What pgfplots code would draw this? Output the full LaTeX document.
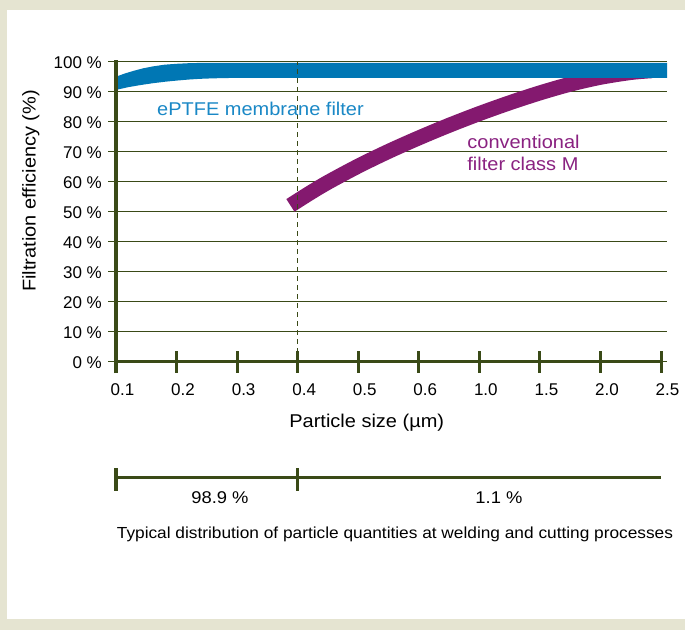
\documentclass[border=0pt]{standalone}
\usepackage{fontspec}
\setmainfont{Liberation Sans}
\newfontfamily\lab{Liberation Sans}[FakeStretch=1.08]
\usepackage{pgfplots}
\pgfplotsset{compat=1.18}
\definecolor{bgbeige}{HTML}{E5E4D1}
\definecolor{axcol}{HTML}{3A4A17}
\definecolor{eblue}{HTML}{0077B4}
\definecolor{eblueT}{HTML}{1A88C6}
\definecolor{cpurp}{HTML}{84196F}
\definecolor{cpurpT}{HTML}{8A2281}
\begin{document}
\begin{tikzpicture}
\fill[bgbeige] (0,0) rectangle (685bp,630bp);
\fill[white] (7bp,11bp) rectangle (685bp,620bp);
\begin{axis}[
  at={(116bp,268bp)}, anchor=south west,
  x=60.556bp, y=3bp,
  xmin=0, xmax=9.1, ymin=0, ymax=100,
  clip=false,
  axis line style={draw=none},
  tick style={draw=none},
  ymajorgrids, grid style={axcol, line width=1bp},
  xtick={0,1,2,3,4,5,6,7,8,9},
  xticklabels={0.1,0.2,0.3,0.4,0.5,0.6,1.0,1.5,2.0,2.5},
  ytick={0,10,20,30,40,50,60,70,80,90,100},
  yticklabels={0 \%,10 \%,20 \%,30 \%,40 \%,50 \%,60 \%,70 \%,80 \%,90 \%,100 \%},
  ticklabel style={font=\fontsize{17bp}{20bp}\selectfont, text=black},
  xticklabel style={anchor=base, yshift=-33.5bp, xshift=6.5bp},
  yticklabel style={anchor=base east, inner xsep=0pt, xshift=-14bp, yshift=-7bp},
]
% conventional filter class M (centre line of band)
\addplot[cpurp, line width=15bp, smooth, tension=0.5, line cap=butt] coordinates {
 (2.88,52.2) (3.2,56.3) (3.5,59.9) (4,65.3) (4.5,70.2) (5,74.7) (5.5,78.9)
 (6,82.8) (6.5,86.4) (7,89.7) (7.5,92.6) (8,94.9) (8.5,96.5) (8.85,97.1)};
% ePTFE membrane filter band (upper edge, then lower edge back)
\addplot[draw=none, fill=eblue] coordinates {
 (0,95.1) (0.15,96.2) (0.3,97.1) (0.45,97.9) (0.6,98.5) (0.8,99.1) (1.0,99.4)
 (1.2,99.6) (1.4,99.7) (9.1,99.7)
 (9.1,94.7) (2.0,94.7) (1.8,94.65) (1.6,94.55) (1.4,94.4) (1.2,94.15) (1.0,93.8)
 (0.8,93.4) (0.6,92.9) (0.4,92.3) (0.2,91.6) (0,90.7) (0,95.1)};
\draw[axcol, line width=1bp, dash pattern=on 5bp off 4bp] (axis cs:3,0) -- (axis cs:3,100);
\draw[axcol, line width=3bp] (axis cs:0,-3.67) -- (axis cs:0,100.67);
\draw[axcol, line width=3bp] (axis cs:0,0) -- (axis cs:9,0);
\pgfplotsinvokeforeach{0,1,2,3,4,5,6,7,8,9}{\draw[axcol,line width=3bp] (axis cs:#1,0) ++(0,-11bp) -- ++(0,22bp);}
\pgfplotsinvokeforeach{0,10,20,30,40,50,60,70,80,90,100}{\draw[axcol,line width=1bp] (axis cs:0,#1) -- ++(-8bp,0);}
% distribution bar
\draw[axcol, line width=3bp] (axis cs:0,-38.43) -- (axis cs:9,-38.43);
\draw[axcol, line width=3bp] (axis cs:0,-35.43) -- (axis cs:0,-42.9);
\draw[axcol, line width=3bp] (axis cs:3,-35.43) -- (axis cs:3,-42.9);
% texts
\node[anchor=base west, inner sep=0pt, text=eblueT, font=\lab\fontsize{18.5bp}{22bp}\selectfont] at (axis cs:0.677,82.1) {ePTFE membrane filter};
\node[anchor=base west, inner sep=0pt, text=cpurpT, font=\lab\fontsize{18.5bp}{22bp}\selectfont] at (axis cs:5.80,71.23) {conventional};
\node[anchor=base west, inner sep=0pt, text=cpurpT, font=\lab\fontsize{18.5bp}{22bp}\selectfont] at (axis cs:5.80,63.67) {filter class M};
\node[anchor=base, inner sep=0pt, font=\lab\fontsize{18.5bp}{22bp}\selectfont] at (axis cs:4.141,-21.9) {Particle size (µm)};
\node[rotate=90, anchor=base, inner sep=0pt, font=\lab\fontsize{18.5bp}{22bp}\selectfont] at (axis cs:-1.326,57) {Filtration efficiency (\%)};
\node[anchor=base, inner sep=0pt, font=\lab\fontsize{17bp}{20bp}\selectfont] at (axis cs:1.717,-47.1) {98.9 \%};
\node[anchor=base, inner sep=0pt, font=\lab\fontsize{17bp}{20bp}\selectfont] at (axis cs:6.324,-47.1) {1.1 \%};
\node[anchor=base, inner sep=0pt, font=\lab\fontsize{16bp}{19bp}\selectfont] at (axis cs:4.607,-58.67) {Typical distribution of particle quantities at welding and cutting processes};
\end{axis}
\end{tikzpicture}
\end{document}
